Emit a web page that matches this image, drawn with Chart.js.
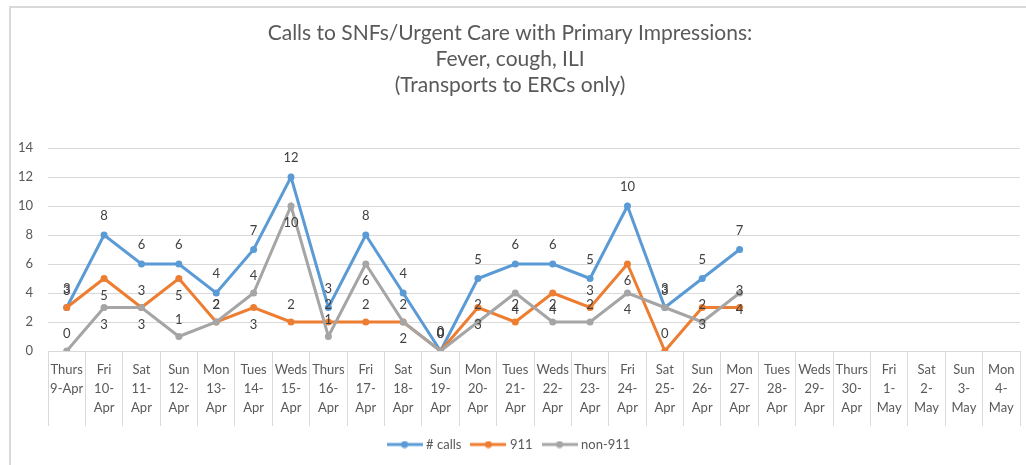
<!DOCTYPE html>
<html>
<head>
<meta charset="utf-8">
<script src="https://cdn.jsdelivr.net/npm/chart.js@4/dist/chart.umd.min.js"></script>
<style>
  html, body { margin: 0; padding: 0; background: #fff; overflow: hidden; }
  #wrap { position: relative; width: 1026px; height: 465px; }
  #frame { position: absolute; left: 9px; top: 6px; width: 1100px; height: 500px;
           border-top: 2px solid #d9d9d9; border-left: 2px solid #d9d9d9; }
  canvas { position: absolute; left: 0; top: 0; }
</style>
</head>
<body>
<div id="wrap">
  <div id="frame"></div>
  <canvas id="chart" width="1026" height="465"></canvas>
</div>
<script>
const days = ["Thurs", "Fri", "Sat", "Sun", "Mon", "Tues", "Weds", "Thurs", "Fri", "Sat", "Sun", "Mon", "Tues",
    "Weds", "Thurs", "Fri", "Sat", "Sun", "Mon", "Tues", "Weds", "Thurs", "Fri", "Sat", "Sun", "Mon"];
const dates = ["9-Apr", "10-Apr", "11-Apr", "12-Apr", "13-Apr", "14-Apr", "15-Apr", "16-Apr", "17-Apr", "18-Apr",
    "19-Apr", "20-Apr", "21-Apr", "22-Apr", "23-Apr", "24-Apr", "25-Apr", "26-Apr", "27-Apr", "28-Apr",
    "29-Apr", "30-Apr", "1-May", "2-May", "3-May", "4-May"];
const calls = [3, 8, 6, 6, 4, 7, 12, 3, 8, 4, 0, 5, 6, 6, 5, 10, 3, 5, 7, null, null, null, null, null, null, null];
const calls911 = [3, 5, 3, 5, 2, 3, 2, 2, 2, 2, 0, 3, 2, 4, 3, 6, 0, 3, 3, null, null, null, null, null, null, null];
const non911 = [0, 3, 3, 1, 2, 4, 10, 1, 6, 2, 0, 2, 4, 2, 2, 4, 3, 2, 4, null, null, null, null, null, null, null];
const yTicks = [0, 2, 4, 6, 8, 10, 12, 14];

const FONT = "Lato, 'Open Sans', sans-serif";
const TXT = "#595959";
const GRID = "#d9d9d9";

// dates wrap to "10-" / "Apr" like in the sheet, only the first one stays on one line
const labels = days.map((d, i) => {
    const dt = dates[i];
    if (i === 0) return [d, dt];
    const k = dt.indexOf("-") + 1;
    return [d, dt.slice(0, k), dt.slice(k)];
});

function legendIcon(color) {
    const c = document.createElement("canvas");
    c.width = 36; c.height = 8;
    const g = c.getContext("2d");
    g.strokeStyle = color; g.lineWidth = 3;
    g.beginPath(); g.moveTo(0, 4); g.lineTo(36, 4); g.stroke();
    g.fillStyle = color;
    g.beginPath(); g.arc(18, 4, 3.5, 0, Math.PI * 2); g.fill();
    return c;
}

// value labels: # calls above, the others above if the point sits below its neighbours
const valueLabels = {
    id: "valueLabels",
    afterDatasetsDraw(chart) {
        const ctx = chart.ctx;
        ctx.save();
        ctx.font = "13px " + FONT;
        ctx.fillStyle = "#404040";
        ctx.textAlign = "center";
        ctx.textBaseline = "middle";
        chart.data.datasets.forEach((ds, di) => {
            const meta = chart.getDatasetMeta(di);
            meta.data.forEach((pt, i) => {
                const v = ds.data[i];
                if (v == null) return;
                let dy = -19;
                if (di > 0) {
                    const nb = [ds.data[i - 1], ds.data[i + 1]].filter(x => x != null);
                    const avg = nb.reduce((a, b) => a + b, 0) / nb.length;
                    dy = v > avg ? 17 : -17;
                }
                ctx.fillText(String(v), pt.x, pt.y + dy);
            });
        });
        ctx.restore();
    }
};

const colors = ["#5b9bd5", "#ed7d31", "#a5a5a5"];
const series = [["# calls", calls], ["911", calls911], ["non-911", non911]];

new Chart(document.getElementById("chart"), {
    type: "line",
    data: {
        labels: labels,
        datasets: series.map((s, i) => ({
            label: s[0],
            data: s[1],
            borderColor: colors[i],
            backgroundColor: colors[i],
            borderWidth: 3,
            pointRadius: 3.5,
            pointBackgroundColor: colors[i],
            pointBorderWidth: 0,
            tension: 0,
            spanGaps: false,
            order: -i   // later series on top, like Excel
        }))
    },
    options: {
        responsive: false,
        animation: false,
        devicePixelRatio: 1,
        layout: { padding: { left: 0, right: 6, top: 0, bottom: 4 } },
        plugins: {
            title: {
                display: true,
                text: ["Calls to SNFs/Urgent Care with Primary Impressions:", "Fever, cough, ILI", "(Transports to ERCs only)"],
                color: TXT,
                font: { family: FONT, size: 21, weight: "normal", lineHeight: "26px" },
                padding: { top: 20, bottom: 50 }
            },
            legend: {
                position: "bottom",
                labels: {
                    color: TXT,
                    font: { family: FONT, size: 13 },
                    usePointStyle: true,
                    pointStyleWidth: 30,
                    padding: 12,
                    generateLabels(chart) {
                        const items = Chart.defaults.plugins.legend.labels.generateLabels(chart);
                        items.forEach(it => { it.pointStyle = legendIcon(it.strokeStyle); });
                        return items.sort((a, b) => a.datasetIndex - b.datasetIndex);
                    }
                }
            },
            tooltip: { enabled: false }
        },
        scales: {
            x: {
                offset: true,
                grid: { offset: true, drawOnChartArea: false, color: GRID, tickLength: 75 },
                border: { color: GRID },
                ticks: {
                    color: TXT, font: { family: FONT, size: 13, lineHeight: "19px" },
                    padding: -66, maxRotation: 0, autoSkip: false
                },
                afterFit(scale) { scale.height = 75; }
            },
            y: {
                min: 0, max: 14,
                afterBuildTicks(scale) { scale.ticks = yTicks.map(v => ({ value: v })); },
                grid: { color: GRID, drawTicks: false },
                border: { display: false },
                ticks: { color: TXT, font: { family: FONT, size: 13 }, padding: 15 },
                afterFit(scale) { scale.width = 48; }
            }
        }
    },
    plugins: [valueLabels]
});
</script>
</body>
</html>
